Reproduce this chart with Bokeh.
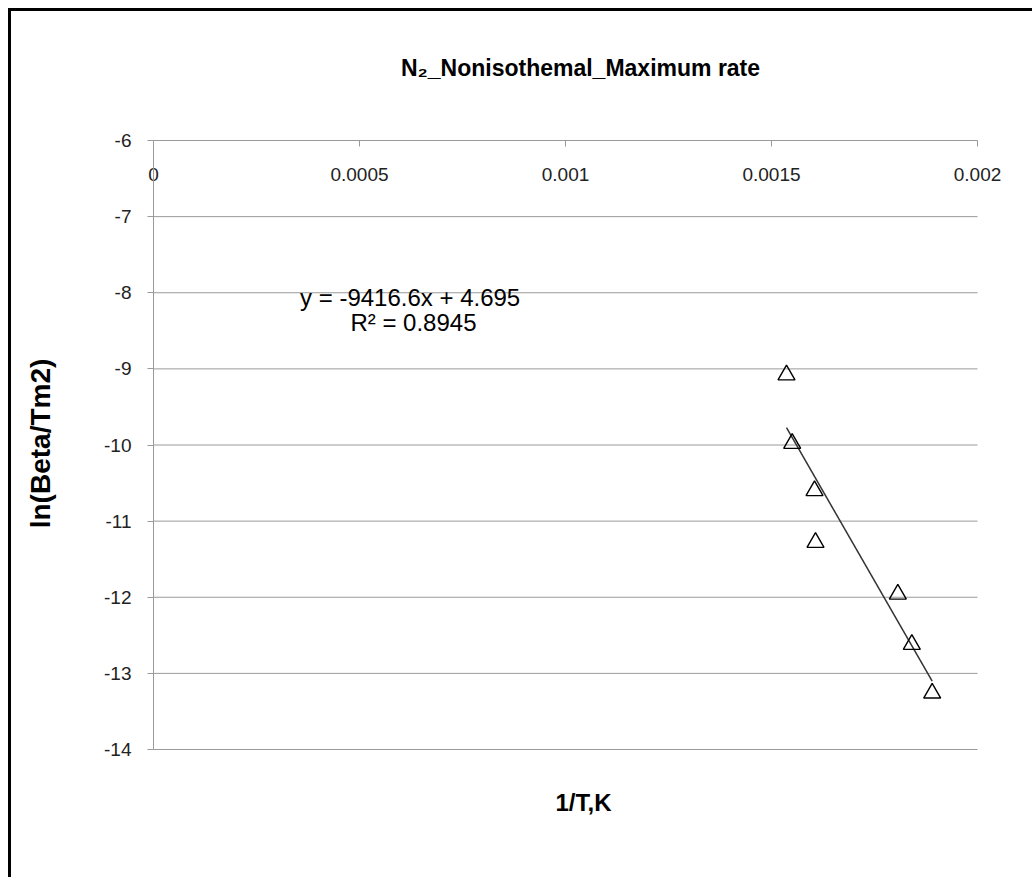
import math
from bokeh.plotting import figure
from bokeh.models import Label, FixedTicker, Range1d, CustomJSTickFormatter
from bokeh.embed import file_html
from bokeh.resources import INLINE

# ---- data ----
inv_T = [0.0015364, 0.0015502, 0.0016044, 0.0016068, 0.0018066, 0.0018406, 0.0018900]
ln_beta_tm2 = [-9.08, -9.98, -10.60, -11.28, -11.96, -12.62, -13.26]
fit_slope = -9416.6
fit_intercept = 4.695
fit_r2 = 0.8945
x_ticks = [0, 0.0005, 0.001, 0.0015, 0.002]
x_tick_labels = ["0", "0.0005", "0.001", "0.0015", "0.002"]
y_ticks = [-6, -7, -8, -9, -10, -11, -12, -13, -14]
y_tick_labels = ["-6", "-7", "-8", "-9", "-10", "-11", "-12", "-13", "-14"]

title_text = "N\u2082_Nonisothemal_Maximum rate"
x_label_text = "1/T,K"
y_label_text = "ln(Beta/Tm2)"
eq_text = "y = -9416.6x  + 4.695"
r2_text = "R\u00b2 = 0.8945"

FONT = "Liberation Sans"
GRID = "#9a9a9a"

# ---- layout (pixels) ----
CW, CH = 1024, 869                   # canvas size
PL, PT, PW, PH = 142, 129, 824, 609  # plot-area box inside the canvas

xs = (x_ticks[-1] - x_ticks[0]) / PW
ys = (y_ticks[0] - y_ticks[-1]) / PH
x_lo = x_ticks[0] - PL * xs
x_hi = x_lo + CW * xs
y_hi = y_ticks[0] + PT * ys
y_lo = y_hi - CH * ys

p = figure(width=CW, height=CH,
           x_range=Range1d(x_lo, x_hi), y_range=Range1d(y_lo, y_hi),
           output_backend="svg", toolbar_location=None,
           min_border=0, min_border_left=0, min_border_right=0,
           min_border_top=0, min_border_bottom=0)
p.margin = (8, 0, 0, 8)
p.styles = {"border-top": "3px solid black", "border-left": "3px solid black"}
p.outline_line_color = None
p.background_fill_color = "white"
p.border_fill_color = "white"


def list_formatter(vals, txt):
    return CustomJSTickFormatter(args=dict(tick_vals=vals, tick_txt=txt), code="""
        let best = 0, bd = Infinity;
        for (let i = 0; i < tick_vals.length; i++) {
            const d = Math.abs(tick_vals[i] - tick);
            if (d < bd) { bd = d; best = i; }
        }
        return tick_txt[best];
    """)


# horizontal gridlines limited to the plot area
p.xgrid.visible = False
p.ygrid.visible = False
p.segment(x0=[x_ticks[0]] * len(y_ticks), x1=[x_ticks[-1]] * len(y_ticks),
          y0=y_ticks, y1=y_ticks, line_color=GRID, line_width=1)

# x axis crossing at the top (y = -6) with labels below the line
xa = p.xaxis[0]
xa.fixed_location = y_ticks[0]
xa.bounds = (x_ticks[0], x_ticks[-1])
xa.ticker = FixedTicker(ticks=x_ticks)
xa.formatter = list_formatter(x_ticks, x_tick_labels)
xa.axis_line_color = GRID
xa.major_tick_line_color = GRID
xa.major_tick_out = 6
xa.major_tick_in = 0
xa.minor_tick_line_color = None
xa.major_label_standoff = 21
xa.major_label_text_font = FONT
xa.major_label_text_font_size = "19px"
xa.major_label_text_color = "#222222"

ya = p.yaxis[0]
ya.fixed_location = x_ticks[0]
ya.bounds = (y_ticks[-1], y_ticks[0])
ya.ticker = FixedTicker(ticks=y_ticks)
ya.formatter = list_formatter(y_ticks, y_tick_labels)
ya.axis_line_color = GRID
ya.major_tick_line_color = GRID
ya.major_tick_out = 6
ya.major_tick_in = 0
ya.minor_tick_line_color = None
ya.major_label_standoff = 16
ya.major_label_text_font = FONT
ya.major_label_text_font_size = "19px"
ya.major_label_text_color = "#222222"

# trendline over the data range
fx = [min(inv_T), max(inv_T)]
fy = [fit_slope * v + fit_intercept for v in fx]
p.line(fx, fy, line_color="#333333", line_width=1.5)

p.scatter(inv_T, ln_beta_tm2, marker="triangle", size=17,
          fill_color=None, line_color="black", line_width=1.4)

# texts
p.add_layout(Label(x=0.000631, y=-8.062, text=eq_text, text_align="center",
                   text_baseline="middle", text_font=FONT, text_font_size="24px",
                   text_color="black"))
p.add_layout(Label(x=0.000631, y=-8.39, text=r2_text, text_align="center",
                   text_baseline="middle", text_font=FONT, text_font_size="24px",
                   text_color="black"))
p.add_layout(Label(x=0.0010364, y=-5.054, text=title_text, text_align="center",
                   text_baseline="middle", text_font=FONT, text_font_size="23px",
                   text_font_style="bold", text_color="black"))
p.add_layout(Label(x=0.0010437, y=-14.696, text=x_label_text, text_align="center",
                   text_baseline="middle", text_font=FONT, text_font_size="24px",
                   text_font_style="bold", text_color="black"))
p.add_layout(Label(x=-0.000274, y=-9.98, text=y_label_text, text_align="center",
                   text_baseline="middle", text_font=FONT, text_font_size="28px",
                   text_font_style="bold", text_color="black", angle=math.pi / 2))

open("out.html", "w").write(file_html(p, INLINE))
